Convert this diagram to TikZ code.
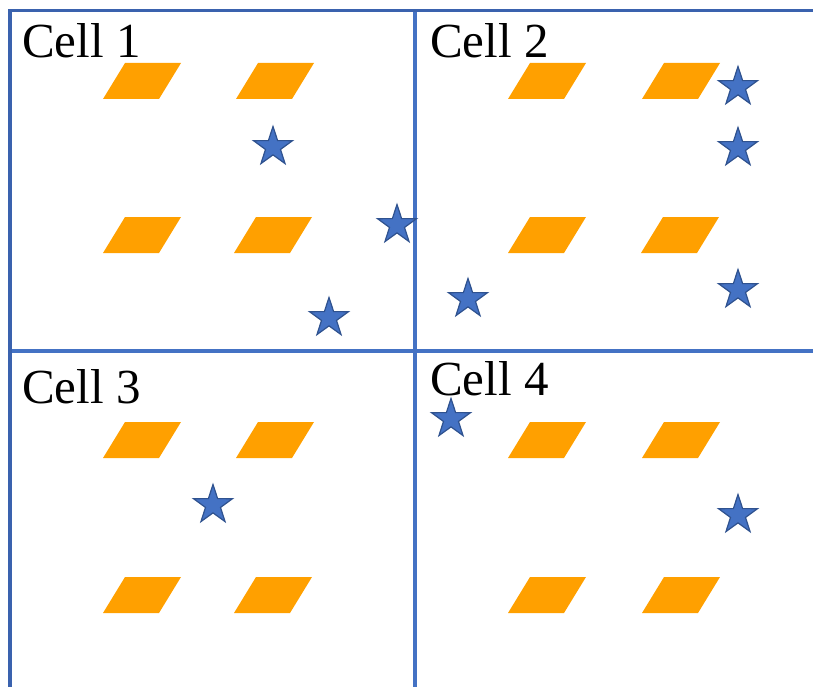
\documentclass[tikz,border=0pt]{standalone}
\usepackage{fontspec}
\setmainfont{Liberation Serif}
\usetikzlibrary{shapes.geometric}

\definecolor{gridblue}{HTML}{4472C4}
\definecolor{frameblue}{HTML}{3A62AE}
\definecolor{starblue}{HTML}{4472C4}
\definecolor{stardark}{HTML}{2F528F}
\definecolor{blockorange}{HTML}{FFA000}

\tikzset{
  gridline/.style={draw=gridblue, line width=3.2pt},
  frameline/.style={draw=frameblue, line width=3.6pt},
  celllabel/.style={anchor=base west, inner sep=0pt, font=\fontsize{49}{52}\selectfont},
  starmark/.style={star, star points=5, star point ratio=2.6, minimum size=41pt,
    inner sep=0pt, fill=starblue, draw=stardark, line width=1.2pt},
  block/.pic={\fill[blockorange] (0,36) -- (22,0) -- (78,0) -- (56,36) -- cycle;}
}

\begin{document}
\begin{tikzpicture}[x=1pt, y=-1pt]
  \useasboundingbox (0,0) rectangle (813,687);

  % grid of four cells
  \draw[gridline] (415,10) -- (415,687);
  \draw[gridline] (10,351) -- (813,351);
  \draw[frameline] (10,687) -- (10,10.5) -- (813,10.5);

  % cell titles
  \node[celllabel] (t1) at (22,58) {Cell 1};
  \node[celllabel] (t2) at (430,58) {Cell 2};
  \node[celllabel] (t3) at (22,403) {Cell 3};
  \node[celllabel] (t4) at (430,395) {Cell 4};

  % orange blocks, four per cell
  \foreach \px/\py in {103/63, 236/63, 103/217, 234/217,
                       508/63, 642/63, 508/217, 641/217,
                       103/422, 236/422, 103/577, 234/577,
                       508/422, 642/422, 508/577, 642/577}
    \pic at (\px,\py) {block};

  % stars
  \node[starmark] (s1a) at (273,147) {};
  \node[starmark] (s1b) at (397,225) {};
  \node[starmark] (s1c) at (329,318) {};
  \node[starmark] (s2a) at (738,87) {};
  \node[starmark] (s2b) at (738,148) {};
  \node[starmark] (s2c) at (468,299) {};
  \node[starmark] (s2d) at (738,290) {};
  \node[starmark] (s3a) at (213,505) {};
  \node[starmark] (s4a) at (451,419) {};
  \node[starmark] (s4b) at (738,515) {};
\end{tikzpicture}
\end{document}
